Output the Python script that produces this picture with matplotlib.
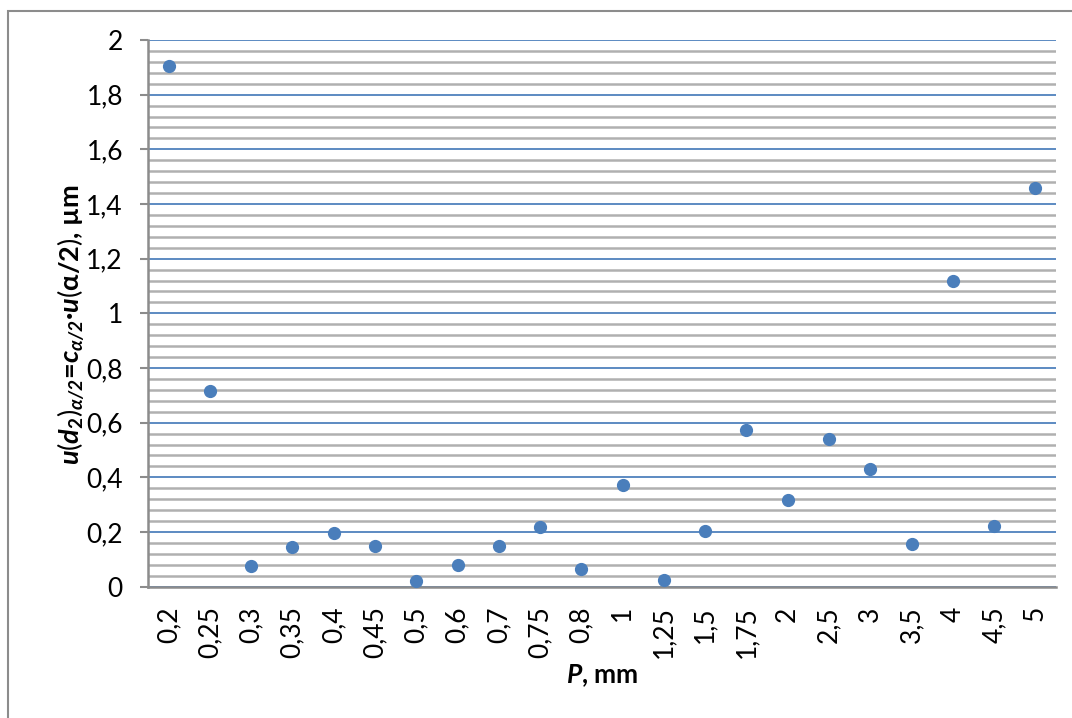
import matplotlib
matplotlib.use("Agg")
import matplotlib.pyplot as plt
from matplotlib.patches import Rectangle
from matplotlib.ticker import MultipleLocator, FuncFormatter

categories = ["0,2", "0,25", "0,3", "0,35", "0,4", "0,45", "0,5", "0,6", "0,7", "0,75",
              "0,8", "1", "1,25", "1,5", "1,75", "2", "2,5", "3", "3,5", "4", "4,5", "5"]
values = [1.905, 0.716, 0.075, 0.145, 0.197, 0.150, 0.020, 0.080, 0.150, 0.220,
          0.065, 0.373, 0.026, 0.203, 0.574, 0.318, 0.542, 0.431, 0.156, 1.119, 0.223, 1.459]

plt.rcParams['font.family'] = ['Lato', 'DejaVu Sans']
plt.rcParams['mathtext.fontset'] = 'custom'
plt.rcParams['mathtext.rm'] = 'Lato'
plt.rcParams['mathtext.it'] = 'Lato:italic'
plt.rcParams['mathtext.bf'] = 'Lato:bold'
plt.rcParams['mathtext.bfit'] = 'Lato:bold:italic'

fig = plt.figure(figsize=(10.72, 7.18), dpi=100)
ax = fig.add_axes([148/1072, 1-586.7/718, (1056-148)/1072, (586.7-40)/718])

# chart border
fig.patches.append(Rectangle((8/1072, -0.1), 1.2, 1-11/718+0.1, transform=fig.transFigure,
                             fill=False, edgecolor='#8c8c8c', linewidth=1.5, zorder=0))

x = list(range(len(categories)))
ax.plot(x, values, linestyle='none', marker='o', markersize=8.5, color='#4a7ebb',
        markeredgecolor='#4a7ebb', zorder=5, clip_on=False)

ax.set_xlim(-0.5, len(categories) - 0.5)
ax.set_ylim(0, 2)
ax.yaxis.set_major_locator(MultipleLocator(0.2))
ax.yaxis.set_minor_locator(MultipleLocator(0.04))
ax.yaxis.set_major_formatter(FuncFormatter(lambda v, p: ('%g' % round(v, 2)).replace('.', ',')))
ax.grid(True, which='minor', axis='y', color='#b0b0b0', linewidth=1.8, zorder=0)
ax.grid(True, which='major', axis='y', color='#4f81bd', linewidth=1.3, zorder=1)
ax.set_axisbelow(True)

ax.set_xticks(x)
ax.set_xticklabels(categories, rotation=90, fontsize=19)
ax.tick_params(axis='x', length=0, pad=14)
ax.tick_params(axis='y', which='major', length=6, width=1.5, color='#8c8c8c', labelsize=19, pad=12)
ax.tick_params(axis='y', which='minor', length=0)

for s in ['top', 'right']:
    ax.spines[s].set_visible(False)
for s in ['left', 'bottom']:
    ax.spines[s].set_color('#8c8c8c')
    ax.spines[s].set_linewidth(1.8)

ax.set_xlabel(r'$\mathbfit{P}$, mm', fontsize=19, fontweight='bold', labelpad=3)
ax.set_ylabel(r'$\mathbfit{u}(\mathbfit{d}_{\mathbf{2}})_{\mathbfit{\alpha/2}}$=$\mathbfit{c}_{\mathbfit{\alpha/2}}$·$\mathbfit{u}(\mathbf{\alpha}\mathbf{/2})$, µm',
              fontsize=19.5, fontweight='bold', labelpad=0)
ax.yaxis.label.set_y(0.48)

fig.savefig('out.png', dpi=100)
